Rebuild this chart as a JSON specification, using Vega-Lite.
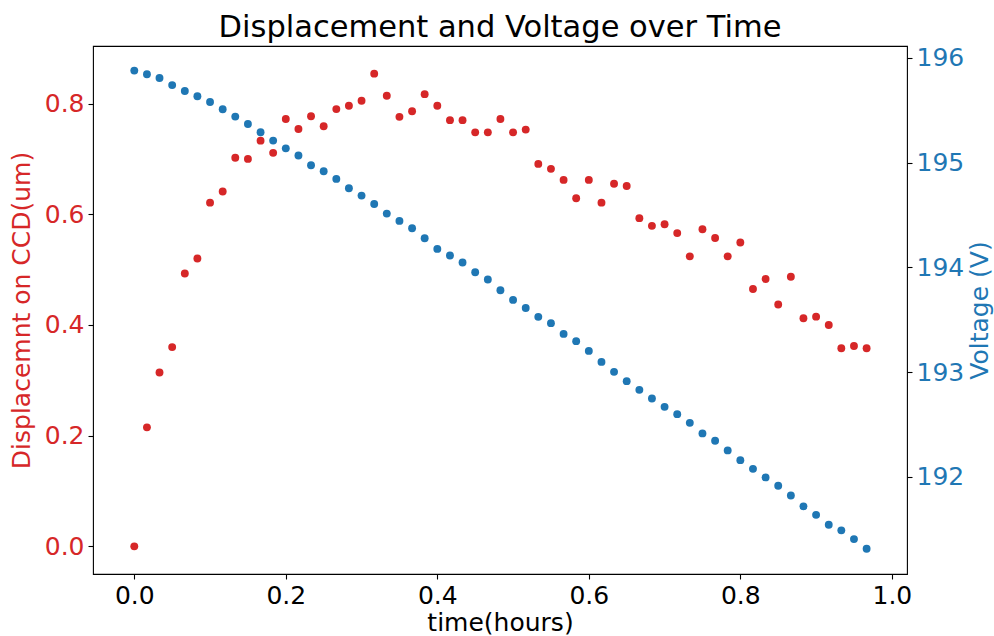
{
  "$schema": "https://vega.github.io/schema/vega-lite/v6.json",
  "autosize": "none",
  "width": 814,
  "height": 528,
  "padding": {"left": 93, "top": 46, "right": 87, "bottom": 62},
  "background": "white",
  "title": {
    "text": "Displacement and Voltage over Time",
    "font": "DejaVu Sans",
    "fontSize": 30.5,
    "fontWeight": "normal",
    "color": "black",
    "anchor": "middle",
    "offset": 2
  },
  "config": {
    "view": {"stroke": "black", "strokeWidth": 1.1},
    "axis": {
      "labelFont": "DejaVu Sans",
      "titleFont": "DejaVu Sans",
      "labelFontSize": 25,
      "titleFontSize": 25,
      "titleFontWeight": "normal",
      "grid": false,
      "domain": false,
      "tickColor": "black",
      "tickSize": 5,
      "tickWidth": 1.1,
      "labelPadding": 4,
      "labelFlush": false,
      "labelOverlap": false
    }
  },
  "data": {
    "values": [
      {"t": 0, "disp": 0, "volt": 195.878},
      {"t": 0.0167, "disp": 0.215, "volt": 195.843},
      {"t": 0.0333, "disp": 0.314, "volt": 195.807},
      {"t": 0.05, "disp": 0.36, "volt": 195.74},
      {"t": 0.0667, "disp": 0.493, "volt": 195.683},
      {"t": 0.0833, "disp": 0.52, "volt": 195.633},
      {"t": 0.1, "disp": 0.621, "volt": 195.578},
      {"t": 0.1167, "disp": 0.641, "volt": 195.509},
      {"t": 0.1333, "disp": 0.702, "volt": 195.439},
      {"t": 0.15, "disp": 0.7, "volt": 195.368},
      {"t": 0.1667, "disp": 0.733, "volt": 195.289},
      {"t": 0.1833, "disp": 0.711, "volt": 195.21},
      {"t": 0.2, "disp": 0.772, "volt": 195.136},
      {"t": 0.2167, "disp": 0.754, "volt": 195.067},
      {"t": 0.2333, "disp": 0.777, "volt": 194.974},
      {"t": 0.25, "disp": 0.759, "volt": 194.917},
      {"t": 0.2667, "disp": 0.79, "volt": 194.844},
      {"t": 0.2833, "disp": 0.796, "volt": 194.755},
      {"t": 0.3, "disp": 0.805, "volt": 194.685},
      {"t": 0.3167, "disp": 0.854, "volt": 194.605},
      {"t": 0.3333, "disp": 0.814, "volt": 194.513},
      {"t": 0.35, "disp": 0.776, "volt": 194.443},
      {"t": 0.3667, "disp": 0.786, "volt": 194.373},
      {"t": 0.3833, "disp": 0.817, "volt": 194.278},
      {"t": 0.4, "disp": 0.796, "volt": 194.176},
      {"t": 0.4167, "disp": 0.77, "volt": 194.113},
      {"t": 0.4333, "disp": 0.77, "volt": 194.046},
      {"t": 0.45, "disp": 0.748, "volt": 193.953},
      {"t": 0.4667, "disp": 0.748, "volt": 193.884},
      {"t": 0.4833, "disp": 0.772, "volt": 193.781},
      {"t": 0.5, "disp": 0.748, "volt": 193.689},
      {"t": 0.5167, "disp": 0.753, "volt": 193.612},
      {"t": 0.5333, "disp": 0.691, "volt": 193.527},
      {"t": 0.55, "disp": 0.682, "volt": 193.467},
      {"t": 0.5667, "disp": 0.662, "volt": 193.364},
      {"t": 0.5833, "disp": 0.629, "volt": 193.295},
      {"t": 0.6, "disp": 0.662, "volt": 193.202},
      {"t": 0.6167, "disp": 0.621, "volt": 193.097},
      {"t": 0.6333, "disp": 0.655, "volt": 193.002},
      {"t": 0.65, "disp": 0.651, "volt": 192.913},
      {"t": 0.6667, "disp": 0.593, "volt": 192.83},
      {"t": 0.6833, "disp": 0.579, "volt": 192.748},
      {"t": 0.7, "disp": 0.582, "volt": 192.668},
      {"t": 0.7167, "disp": 0.566, "volt": 192.598},
      {"t": 0.7333, "disp": 0.524, "volt": 192.515},
      {"t": 0.75, "disp": 0.573, "volt": 192.414},
      {"t": 0.7667, "disp": 0.557, "volt": 192.344},
      {"t": 0.7833, "disp": 0.524, "volt": 192.252},
      {"t": 0.8, "disp": 0.549, "volt": 192.159},
      {"t": 0.8167, "disp": 0.465, "volt": 192.076},
      {"t": 0.8333, "disp": 0.483, "volt": 191.994},
      {"t": 0.85, "disp": 0.437, "volt": 191.914},
      {"t": 0.8667, "disp": 0.487, "volt": 191.822},
      {"t": 0.8833, "disp": 0.412, "volt": 191.718},
      {"t": 0.9, "disp": 0.415, "volt": 191.637},
      {"t": 0.9167, "disp": 0.4, "volt": 191.542},
      {"t": 0.9333, "disp": 0.358, "volt": 191.489},
      {"t": 0.95, "disp": 0.362, "volt": 191.405},
      {"t": 0.9667, "disp": 0.358, "volt": 191.313}
    ]
  },
  "encoding": {
    "x": {
      "field": "t",
      "type": "quantitative",
      "scale": {"domain": [-0.0545, 1.02], "nice": false, "zero": false},
      "axis": {
        "title": "time(hours)",
        "values": [0, 0.2, 0.4, 0.6, 0.8, 1.0],
        "format": ".1f",
        "labelColor": "black",
        "titleColor": "black",
        "titlePadding": 2
      }
    }
  },
  "layer": [
    {
      "mark": {"type": "point", "filled": true, "size": 62, "opacity": 1, "color": "#d62728"},
      "encoding": {
        "y": {
          "field": "disp",
          "type": "quantitative",
          "scale": {"domain": [-0.05, 0.904], "nice": false, "zero": false},
          "axis": {
            "orient": "left",
            "title": "Displacemnt on CCD(um)",
            "values": [0, 0.2, 0.4, 0.6, 0.8],
            "format": ".1f",
            "labelColor": "#d62728",
            "titleColor": "#d62728",
            "titlePadding": 10
          }
        }
      }
    },
    {
      "mark": {"type": "point", "filled": true, "size": 62, "opacity": 1, "color": "#1f77b4"},
      "encoding": {
        "y": {
          "field": "volt",
          "type": "quantitative",
          "scale": {"domain": [191.072, 196.113], "nice": false, "zero": false},
          "axis": {
            "orient": "right",
            "title": "Voltage (V)",
            "values": [192, 193, 194, 195, 196],
            "format": "d",
            "labelColor": "#1f77b4",
            "titleColor": "#1f77b4",
            "titleAngle": 270,
            "titleBaseline": "top",
            "titlePadding": 4
          }
        }
      }
    }
  ],
  "resolve": {"scale": {"y": "independent"}}
}
